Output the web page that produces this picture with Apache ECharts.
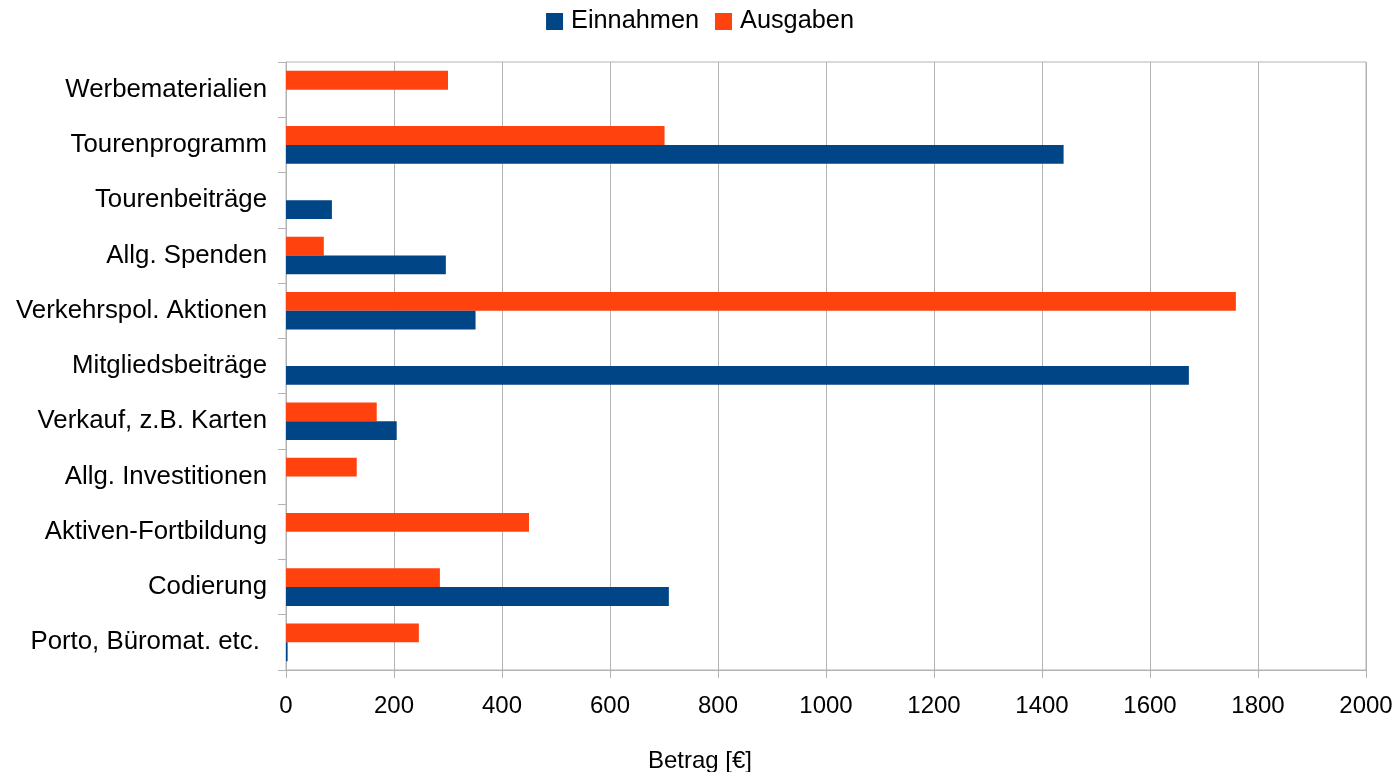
<!DOCTYPE html>
<html>
<head>
<meta charset="utf-8">
<script src="https://cdn.jsdelivr.net/npm/echarts@6/dist/echarts.min.js"></script>
<style>
html,body{margin:0;padding:0;background:#fff;}
#chart{width:1400px;height:772px;}
</style>
</head>
<body>
<div id="chart"></div>
<script>
var categories = ["Porto, Büromat. etc. ", "Codierung", "Aktiven-Fortbildung", "Allg. Investitionen", "Verkauf, z.B. Karten", "Mitgliedsbeiträge", "Verkehrspol. Aktionen", "Allg. Spenden", "Tourenbeiträge", "Tourenprogramm", "Werbematerialien"];
var einnahmen = [3, 709, 0, 0, 205, 1672, 351, 296, 85, 1440, 0];
var ausgaben = [246, 285, 450, 131, 168, 0, 1759, 70, 0, 701, 300];
var xTicks = [0, 200, 400, 600, 800, 1000, 1200, 1400, 1600, 1800, 2000];

var FONT = "'Liberation Sans', Arial, sans-serif";
var chart = echarts.init(document.getElementById('chart'), null, {renderer: 'canvas'});
chart.setOption({
  animation: false,
  backgroundColor: '#ffffff',
  title: {
    text: 'Betrag [€]',
    left: 'center',
    top: 744,
    textStyle: {fontFamily: FONT, fontSize: 24, fontWeight: 'normal', color: '#000'}
  },
  legend: {
    data: ['Einnahmen', 'Ausgaben'],
    left: 'center',
    top: 4,
    icon: 'rect',
    itemWidth: 17,
    itemHeight: 17,
    itemGap: 16,
    textStyle: {fontFamily: FONT, fontSize: 25.3, color: '#000', padding: [0, 0, 0, 3]}
  },
  grid: {
    left: 286,
    right: 34,
    top: 62,
    bottom: 102,
    show: true,
    borderColor: '#b3b3b3',
    borderWidth: 1,
    containLabel: false
  },
  xAxis: {
    type: 'value',
    min: xTicks[0],
    max: xTicks[xTicks.length - 1],
    interval: xTicks[1] - xTicks[0],
    axisLine: {show: true, lineStyle: {color: '#b3b3b3', width: 1}},
    axisTick: {show: true, length: 8, lineStyle: {color: '#b3b3b3'}},
    splitLine: {show: true, lineStyle: {color: '#b3b3b3', width: 1}},
    axisLabel: {fontFamily: FONT, fontSize: 24, color: '#000', margin: 24, formatter: function (v) { return String(v); }}
  },
  yAxis: {
    type: 'category',
    data: categories,
    axisLine: {show: true, lineStyle: {color: '#b3b3b3', width: 1}},
    axisTick: {show: true, length: 8, lineStyle: {color: '#b3b3b3'}},
    splitLine: {show: false},
    axisLabel: {fontFamily: FONT, fontSize: 25.8, color: '#000', margin: 19}
  },
  series: [
    {name: 'Ausgaben', type: 'bar', data: ausgaben, barGap: '0%', barCategoryGap: '32%', itemStyle: {color: '#ff420e'}},
    {name: 'Einnahmen', type: 'bar', data: einnahmen, barGap: '0%', barCategoryGap: '32%', itemStyle: {color: '#004586'}}
  ]
});
</script>
</body>
</html>
